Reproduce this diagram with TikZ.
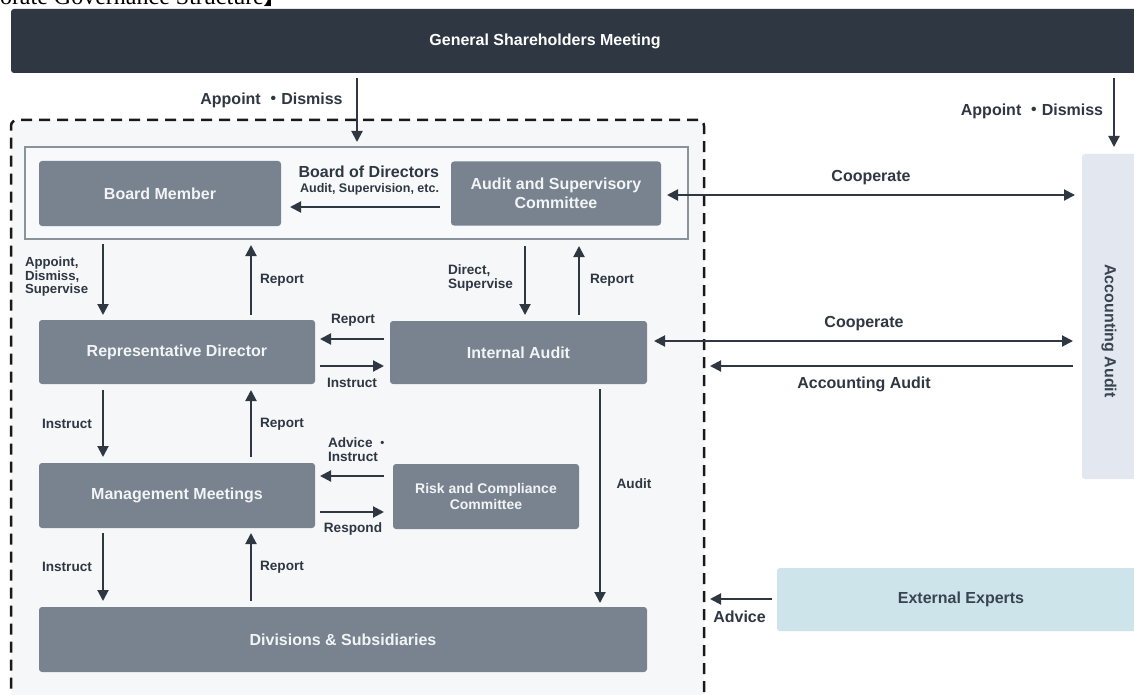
\documentclass[tikz,border=0pt]{standalone}
\usepackage{fontspec}
\setmainfont{Liberation Sans}
\newfontfamily\serifti{Liberation Serif}
\newfontfamily\cjk{Noto Sans CJK JP}
\usetikzlibrary{arrows.meta,calc}
\definecolor{dark}{HTML}{2E3742}
\definecolor{boxg}{HTML}{78838F}
\definecolor{grpbg}{HTML}{F6F7F9}
\definecolor{boardln}{HTML}{8A939C}
\definecolor{boardbg}{HTML}{F8F9FB}
\definecolor{acctbg}{HTML}{E3E7EF}
\definecolor{extbg}{HTML}{CDE4EA}
\definecolor{txtdark}{HTML}{3A4450}
\definecolor{boxtxt}{HTML}{F2F4F6}
\tikzset{
  every node/.style={outer sep=0pt},
  box/.style={draw=none, fill=boxg, rounded corners=3pt, text=boxtxt, font=\bfseries\fontsize{16}{19}\selectfont, align=center, inner sep=0pt},
  arr/.style={draw=dark, line width=2pt, -{Triangle[length=11pt,width=11pt]}},
  darr/.style={draw=dark, line width=2pt, {Triangle[length=11pt,width=11pt]}-{Triangle[length=11pt,width=11pt]}},
  lab/.style={text=dark, font=\bfseries\fontsize{13.6}{13.6}\selectfont, inner sep=0pt, align=left},
  biglab/.style={text=dark, font=\bfseries\fontsize{16}{16}\selectfont, inner sep=0pt, align=center},
}
\begin{document}
\begin{tikzpicture}[x=1pt,y=-1pt]
\useasboundingbox (0,0) rectangle (1134,695);
\fill[white] (0,0) rectangle (1134,695);
% title (cut off)
\node[anchor=base west, inner sep=0pt, font=\serifti\fontsize{24}{24}\selectfont] (title) at (0,5) {orate Governance Structure{\cjk 】}};
% container
\node[draw=black!90, fill=grpbg, line width=2.5pt, dash pattern=on 11pt off 7pt, rounded corners=6pt, minimum width=693pt, minimum height=590pt, inner sep=0pt] (grp) at (357.5,415) {};
% top bar
\node[fill=dark, rounded corners=3pt, minimum width=1129pt, minimum height=64pt, inner sep=0pt] (gsm) at (575.5,41) {};
\node[text=white, font=\bfseries\fontsize{16}{16}\selectfont, inner sep=0pt] (gsmt) at (545,41) {General Shareholders Meeting};
% board
\node[draw=boardln, fill=boardbg, line width=1.3pt, minimum width=663pt, minimum height=92pt, inner sep=0pt] (board) at (356.5,193) {};
\node[box, minimum width=242pt, minimum height=65pt] (bm) at (160,193.5) {Board Member};
\node[box, minimum width=210pt, minimum height=64pt] (asc) at (556,193.5) {Audit and Supervisory\\Committee};
\node[anchor=east, text=dark, font=\bfseries\fontsize{16}{16}\selectfont, inner sep=0pt] (bod) at (439,172) {Board of Directors};
\node[anchor=east, text=dark, font=\bfseries\fontsize{12.5}{12.5}\selectfont, inner sep=0pt] (bods) at (439,189) {Audit, Supervision, etc.};
% main boxes
\node[box, minimum width=276pt, minimum height=64pt] (rd) at (177,352) {Representative Director};
\node[box, minimum width=257pt, minimum height=63pt] (ia) at (518.5,352.5) {Internal Audit};
\node[box, minimum width=276pt, minimum height=65pt] (mm) at (177,495.5) {Management Meetings};
\node[box, minimum width=186pt, minimum height=65pt, font=\bfseries\fontsize{14}{16}\selectfont] (rcc) at (486,496.5) {Risk and Compliance\\Committee};
\node[box, minimum width=608pt, minimum height=65pt] (div) at (343,639.5) {Divisions \& Subsidiaries};
% outside boxes
\node[fill=acctbg, rounded corners=3pt, minimum width=58pt, minimum height=325pt, inner sep=0pt] (acct) at (1111,316.5) {};
\node[rotate=-90, text=txtdark, font=\bfseries\fontsize{16}{16}\selectfont, inner sep=0pt] (acctt) at (1109,331) {Accounting Audit};
\node[fill=extbg, rounded corners=3pt, minimum width=368pt, minimum height=63pt, inner sep=0pt, text=txtdark, font=\bfseries\fontsize{16}{16}\selectfont] (ext) at (961,599.5) {External Experts};
% helper coordinates
\coordinate (cA) at (103,0);
\coordinate (cB) at (251,0);
\coordinate (cC) at (525,0);
\coordinate (cD) at (579,0);
\coordinate (cE) at (600,0);
\coordinate (cF) at (357,0);
\coordinate (cG) at (1114,0);
\coordinate (r1) at (0,207);
\coordinate (r2) at (0,195);
\coordinate (r3) at (0,341);
\coordinate (r4) at (0,366);
\coordinate (r5) at (0,339);
\coordinate (r6) at (0,366);
\coordinate (r7) at (0,476);
\coordinate (r8) at (0,512);
\coordinate (r9) at (0,599);
% connectors
\draw[arr, shorten <=5pt, shorten >=5pt] (gsm.south -| cF) -- (board.north -| cF);
\draw[arr, shorten <=5pt, shorten >=7pt] (gsm.south -| cG) -- (acct.north -| cG);
\draw[arr, shorten <=11pt, shorten >=9pt] (asc.west |- r1) -- (bm.east |- r1);
\draw[darr, shorten <=6pt, shorten >=7pt] (asc.east |- r2) -- (acct.west |- r2);
\draw[darr, shorten <=7pt, shorten >=9pt] (ia.east |- r3) -- (acct.west |- r3);
\draw[arr, shorten <=9pt, shorten >=6pt] (acct.west |- r4) -- (grp.east |- r4);
\draw[arr, shorten <=5pt, shorten >=5pt] (board.south -| cA) -- (rd.north -| cA);
\draw[arr, shorten <=5pt, shorten >=6pt] (rd.north -| cB) -- (board.south -| cB);
\draw[arr, shorten <=7pt, shorten >=6pt] (board.south -| cC) -- (ia.north -| cC);
\draw[arr, shorten <=6pt, shorten >=7pt] (ia.north -| cD) -- (board.south -| cD);
\draw[arr, shorten <=6pt, shorten >=5pt] (ia.west |- r5) -- (rd.east |- r5);
\draw[arr, shorten <=5pt, shorten >=6pt] (rd.east |- r6) -- (ia.west |- r6);
\draw[arr, shorten <=6pt, shorten >=6pt] (rd.south -| cA) -- (mm.north -| cA);
\draw[arr, shorten <=6pt, shorten >=6pt] (mm.north -| cB) -- (rd.south -| cB);
\draw[arr, shorten <=9pt, shorten >=5pt] (rcc.west |- r7) -- (mm.east |- r7);
\draw[arr, shorten <=5pt, shorten >=9pt] (mm.east |- r8) -- (rcc.west |- r8);
\draw[arr, shorten <=5pt, shorten >=4pt] (ia.south -| cE) -- (div.north -| cE);
\draw[arr, shorten <=5pt, shorten >=6pt] (mm.south -| cA) -- (div.north -| cA);
\draw[arr, shorten <=6pt, shorten >=5pt] (div.north -| cB) -- (mm.south -| cB);
\draw[arr, shorten <=5pt, shorten >=6pt] (ext.west |- r9) -- (grp.east |- r9);
% labels
\node[biglab] (l1) at (271.5,100) {Appoint {\cjk ・}Dismiss};
\node[biglab] (l2) at (1032,111) {Appoint {\cjk ・}Dismiss};
\node[biglab] (l3) at (871,178) {Cooperate};
\node[biglab] (l4) at (864,324) {Cooperate};
\node[biglab] (l5) at (864,384) {Accounting Audit};
\node[biglab] (l6) at (739.5,617) {Advice};
\node[lab, anchor=west, font=\bfseries\fontsize{13.2}{13.5}\selectfont] (l7) at (25,277) {Appoint,\\Dismiss,\\Supervise};
\node[lab] (l8) at (282,280) {Report};
\node[lab] (l9) at (353,320) {Report};
\node[lab] (l10) at (352,383) {Instruct};
\node[lab] (l11) at (67,424) {Instruct};
\node[lab] (l12) at (282,424) {Report};
\node[lab, anchor=west, font=\bfseries\fontsize{13.6}{13.3}\selectfont] (l13) at (448,278) {Direct,\\Supervise};
\node[lab] (l14) at (612,280) {Report};
\node[lab, anchor=west, font=\bfseries\fontsize{13.6}{13.3}\selectfont] (l15) at (328,449.5) {Advice {\cjk\fontsize{12}{12}\selectfont ・}\\Instruct};
\node[lab] (l16) at (353,529) {Respond};
\node[lab] (l17) at (634,484) {Audit};
\node[lab] (l18) at (67,567) {Instruct};
\node[lab] (l19) at (282,567) {Report};
\end{tikzpicture}
\end{document}
